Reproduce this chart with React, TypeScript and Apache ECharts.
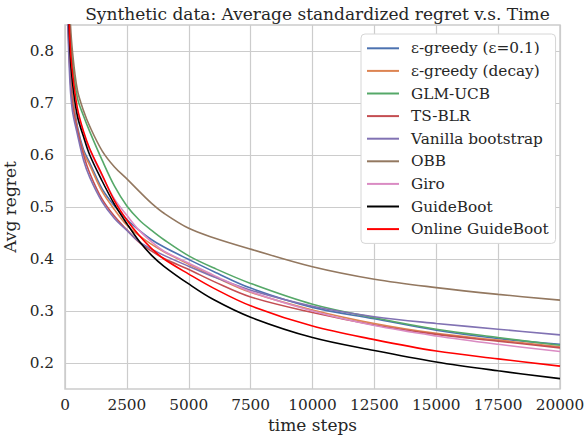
import React, { useEffect, useRef } from "react";
import * as echarts from "echarts";

const TITLE = "Synthetic data: Average standardized regret v.s. Time";
const X_NAME = "time steps";
const Y_NAME = "Avg regret";

const T = [100, 200, 300, 500, 750, 1000, 1500, 2000, 2500, 3000, 3500, 4000, 5000, 6000, 7500, 10000, 12500, 15000, 17500, 20000];

const SERIES_NAMES = [
  "ε-greedy (ε=0.1)",
  "ε-greedy (decay)",
  "GLM-UCB",
  "TS-BLR",
  "Vanilla bootstrap",
  "OBB",
  "Giro",
  "GuideBoot",
  "Online GuideBoot",
];

const COLORS = ["#4C72B0", "#DD8452", "#55A868", "#C44E52", "#8172B3", "#937860", "#DA8BC3", "#000000", "#FF0000"];

const EPS_FIXED = [0.90, 0.78, 0.715, 0.655, 0.61, 0.585, 0.535, 0.502, 0.476, 0.455, 0.437, 0.423, 0.399, 0.376, 0.344, 0.307, 0.285, 0.263, 0.247, 0.236];
const EPS_DECAY = [0.90, 0.77, 0.71, 0.65, 0.605, 0.58, 0.53, 0.495, 0.465, 0.445, 0.428, 0.414, 0.390, 0.367, 0.336, 0.302, 0.276, 0.257, 0.244, 0.231];
const GLM_UCB = [0.95, 0.84, 0.78, 0.71, 0.675, 0.645, 0.59, 0.54, 0.502, 0.475, 0.455, 0.437, 0.406, 0.383, 0.353, 0.313, 0.287, 0.265, 0.249, 0.234];
const TS_BLR = [0.89, 0.76, 0.70, 0.648, 0.60, 0.565, 0.515, 0.482, 0.456, 0.432, 0.415, 0.401, 0.380, 0.357, 0.327, 0.297, 0.273, 0.255, 0.242, 0.229];
const VANILLA = [0.87, 0.74, 0.685, 0.64, 0.59, 0.557, 0.51, 0.478, 0.455, 0.433, 0.419, 0.407, 0.386, 0.366, 0.340, 0.309, 0.289, 0.276, 0.265, 0.254];
const OBB = [1.0, 0.87, 0.80, 0.725, 0.685, 0.655, 0.608, 0.577, 0.554, 0.530, 0.507, 0.488, 0.459, 0.441, 0.419, 0.385, 0.361, 0.345, 0.332, 0.321];
const GIRO = [0.93, 0.80, 0.74, 0.68, 0.64, 0.61, 0.56, 0.515, 0.484, 0.455, 0.433, 0.415, 0.392, 0.369, 0.337, 0.300, 0.272, 0.252, 0.236, 0.222];
const GUIDEBOOT = [0.95, 0.80, 0.74, 0.675, 0.635, 0.60, 0.55, 0.505, 0.468, 0.434, 0.407, 0.386, 0.352, 0.322, 0.288, 0.249, 0.224, 0.202, 0.185, 0.170];
const ONLINE_GUIDEBOOT = [0.97, 0.82, 0.76, 0.69, 0.645, 0.612, 0.562, 0.512, 0.475, 0.445, 0.420, 0.400, 0.371, 0.344, 0.310, 0.271, 0.245, 0.223, 0.208, 0.194];

const VALUES = [EPS_FIXED, EPS_DECAY, GLM_UCB, TS_BLR, VANILLA, OBB, GIRO, GUIDEBOOT, ONLINE_GUIDEBOOT];

const Y_TICKS = [0.2, 0.3, 0.4, 0.5, 0.6, 0.7, 0.8];
const X_MIN = 0;
const X_MAX = 20000;
const X_INTERVAL = 2500;
const Y_MIN = 0.15;
const Y_MAX = 0.85;

const FONT = "'DejaVu Serif', 'Liberation Serif', serif";
const TEXT_COLOR = "#262626";
const GRID_COLOR = "#cccccc";

export default function App() {
  const ref = useRef<HTMLDivElement>(null);

  useEffect(() => {
    if (!ref.current) return;
    const chart = echarts.init(ref.current, undefined, { renderer: "svg" });
    const option: any = {
      animation: false,
      backgroundColor: "#ffffff",
      textStyle: { fontFamily: FONT, color: TEXT_COLOR },
      title: {
        text: TITLE,
        left: 312.5,
        top: 0,
        textAlign: "center",
        textStyle: { fontFamily: FONT, fontSize: 17, fontWeight: "normal", color: TEXT_COLOR },
      },
      grid: {
        left: 65,
        right: 27,
        top: 25,
        bottom: 47,
        containLabel: false,
        outerBoundsMode: "none",
        show: true,
        borderColor: GRID_COLOR,
        borderWidth: 1.5,
        backgroundColor: "transparent",
      },
      legend: {
        orient: "vertical",
        left: 361,
        top: 34,
        icon: "rect",
        itemWidth: 32,
        itemHeight: 2,
        itemGap: 0,
        padding: [3, 7, 3, 6],
        backgroundColor: "#ffffff",
        borderColor: "#d6d6d6",
        borderWidth: 1,
        borderRadius: 4,
        textStyle: {
          fontFamily: FONT,
          fontSize: 15.3,
          color: TEXT_COLOR,
          lineHeight: 22.6,
          padding: [0, 0, 0, 7],
        },
        data: SERIES_NAMES,
      },
      xAxis: {
        type: "value",
        min: X_MIN,
        max: X_MAX,
        interval: X_INTERVAL,
        name: X_NAME,
        nameLocation: "middle",
        nameGap: 27,
        nameTextStyle: { fontFamily: FONT, fontSize: 17, color: TEXT_COLOR },
        axisLine: { show: false },
        axisTick: { show: false },
        axisLabel: {
          fontFamily: FONT,
          fontSize: 15.3,
          color: TEXT_COLOR,
          margin: 8,
          formatter: (v: number) => String(v),
        },
        splitLine: { show: true, lineStyle: { color: GRID_COLOR, width: 1.2 } },
      },
      yAxis: {
        type: "value",
        min: Y_MIN,
        max: Y_MAX,
        name: Y_NAME,
        nameLocation: "middle",
        nameGap: 42,
        nameTextStyle: { fontFamily: FONT, fontSize: 17, color: TEXT_COLOR },
        axisLine: { show: false },
        axisTick: { show: false, customValues: Y_TICKS },
        axisLabel: {
          fontFamily: FONT,
          fontSize: 15.3,
          color: TEXT_COLOR,
          margin: 11,
          customValues: Y_TICKS,
          formatter: (v: number) => v.toFixed(1),
        },
        splitLine: { show: true, lineStyle: { color: GRID_COLOR, width: 1.2 } },
      },
      series: SERIES_NAMES.map((name, i) => ({
        name,
        type: "line",
        data: T.map((t, j) => [t, VALUES[i][j]]),
        showSymbol: false,
        symbol: "none",
        smooth: 0.35,
        clip: true,
        lineStyle: { color: COLORS[i], width: 1.6 },
        itemStyle: { color: COLORS[i] },
        z: 2 + i,
      })),
    };
    chart.setOption(option);
    return () => chart.dispose();
  }, []);

  return (
    <div
      ref={ref}
      style={{ position: "absolute", left: 0, top: 0, width: 587, height: 436 }}
    />
  );
}
